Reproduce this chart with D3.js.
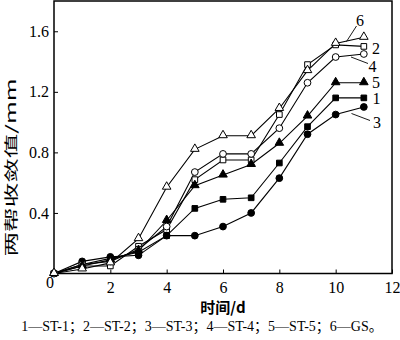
<!DOCTYPE html>
<html><head><meta charset="utf-8">
<script src="https://cdn.jsdelivr.net/npm/d3@7"></script>
<style>body{margin:0;background:#fff}svg{display:block}</style>
</head><body>
<svg id="c" width="400" height="340"></svg>
<script>
const days = [0,1,2,3,4,5,6,7,8,9,10,11];
const st1 = [0,0.06,0.10,0.14,0.25,0.43,0.49,0.50,0.73,0.97,1.16,1.16];
const st2 = [0,0.05,0.05,0.18,0.29,0.62,0.75,0.75,1.05,1.38,1.51,1.50];
const st3 = [0,0.08,0.11,0.12,0.25,0.25,0.31,0.40,0.63,0.92,1.05,1.10];
const st4 = [0,0.06,0.08,0.16,0.31,0.67,0.79,0.79,0.96,1.26,1.43,1.45];
const st5 = [0,0.05,0.09,0.15,0.35,0.58,0.65,0.72,0.86,1.04,1.26,1.26];
const gs  = [0,0.03,0.07,0.23,0.57,0.82,0.91,0.91,1.09,1.34,1.52,1.56];
const seriesNames = ["ST-1","ST-2","ST-3","ST-4","ST-5","GS"];
const seriesLabels = ["1","2","3","4","5","6"];
const xTicks = [2,4,6,8,10,12];
const yTicks = [0.4,0.8,1.2,1.6];
const legendText = "1—ST-1；2—ST-2；3—ST-3；4—ST-4；5—ST-5；6—GS。";

const series = [
  {name:"ST-1", v:st1, shape:d3.symbolSquare, fill:"#000"},
  {name:"ST-2", v:st2, shape:d3.symbolSquare, fill:"#fff"},
  {name:"ST-3", v:st3, shape:d3.symbolCircle, fill:"#000"},
  {name:"ST-4", v:st4, shape:d3.symbolCircle, fill:"#fff"},
  {name:"ST-5", v:st5, shape:d3.symbolTriangle, fill:"#000"},
  {name:"GS",   v:gs,  shape:d3.symbolTriangle, fill:"#fff"}
];

const svg = d3.select("#c");
const L=54, R=392, T=1, B=273.5;
const x = d3.scaleLinear().domain([0,12]).range([L,R]);
const y = d3.scaleLinear().domain([0,1.8]).range([B,T]);
const serif = "'Liberation Serif','Times New Roman',serif";

// axes
const xAxis = d3.axisBottom(x).tickValues(xTicks).tickSizeInner(-4).tickSizeOuter(0).tickPadding(8);
const yAxis = d3.axisLeft(y).tickValues(yTicks).tickFormat(d3.format(".1f")).tickSizeInner(-4).tickSizeOuter(0).tickPadding(5);
const gx = svg.append("g").attr("transform",`translate(0,${B})`).call(xAxis);
const gy = svg.append("g").attr("transform",`translate(${L},0)`).call(yAxis);
[gx,gy].forEach(g=>{
  g.select(".domain").remove();
  g.selectAll("line").attr("stroke","#000").attr("stroke-width",1);
  g.selectAll("text").attr("font-family",serif).attr("font-size",16).attr("fill","#000");
});
svg.append("text").attr("x",50).attr("y",288).attr("text-anchor","middle")
  .attr("font-family",serif).attr("font-size",16).text("0");

// frame
svg.append("rect").attr("x",L).attr("y",T).attr("width",R-L).attr("height",B-T)
  .attr("fill","none").attr("stroke","#000").attr("stroke-width",1.5);

// series
const line = d3.line().x((d,i)=>x(days[i])).y(d=>y(d));
series.forEach(s=>{
  svg.append("path").attr("d",line(s.v)).attr("fill","none").attr("stroke","#000").attr("stroke-width",1.1);
});
series.forEach(s=>{
  const size = s.shape===d3.symbolTriangle ? 32 : (s.shape===d3.symbolSquare ? 32 : 36);
  const sym = d3.symbol().type(s.shape).size(size);
  svg.append("g").selectAll("path").data(s.v).join("path")
    .attr("d",sym)
    .attr("transform",(d,i)=>`translate(${x(days[i])},${y(d) + (s.shape===d3.symbolTriangle?-0.5:0)})`)
    .attr("fill",s.fill).attr("stroke","#000").attr("stroke-width",1);
});

// series labels with leader lines
const labelPos = [
  {t:seriesLabels[0], x:376.5, y:98.5},
  {t:seriesLabels[1], x:376, y:48},
  {t:seriesLabels[2], x:377, y:122},
  {t:seriesLabels[3], x:372.5, y:66},
  {t:seriesLabels[4], x:376, y:82.5},
  {t:seriesLabels[5], x:360, y:20}
];
labelPos.forEach(p=>{
  svg.append("text").attr("x",p.x).attr("y",p.y).attr("text-anchor","middle")
    .attr("dominant-baseline","central").attr("font-family",serif).attr("font-size",16).text(p.t);
});
const leaders = [
  [[356.5,26],[346.5,41.5]],
  [[351,57],[368,63.5]],
  [[351.5,113.5],[370,120.5]]
];
leaders.forEach(l=>{
  svg.append("line").attr("x1",l[0][0]).attr("y1",l[0][1]).attr("x2",l[1][0]).attr("y2",l[1][1])
    .attr("stroke","#000").attr("stroke-width",0.9);
});

// axis titles
svg.append("text").attr("x",223).attr("y",306).attr("text-anchor","middle")
  .attr("dominant-baseline","central")
  .attr("font-family","'Noto Sans CJK SC',"+serif).attr("font-size",15).attr("font-weight","bold")
  .text("时间/d");
svg.append("text").attr("transform","translate(10,167.5) rotate(-90)")
  .attr("text-anchor","middle").attr("dominant-baseline","central")
  .attr("font-family","'Noto Sans CJK SC',"+serif).attr("font-size",14)
  .attr("textLength",178).attr("lengthAdjust","spacingAndGlyphs")
  .text("两帮收敛值/mm");

// legend
svg.append("text").attr("x",202).attr("y",326).attr("text-anchor","middle")
  .attr("dominant-baseline","central")
  .attr("font-family",serif+",'Noto Sans CJK SC'").attr("font-size",14)
  .text(legendText);
</script>
</body></html>
